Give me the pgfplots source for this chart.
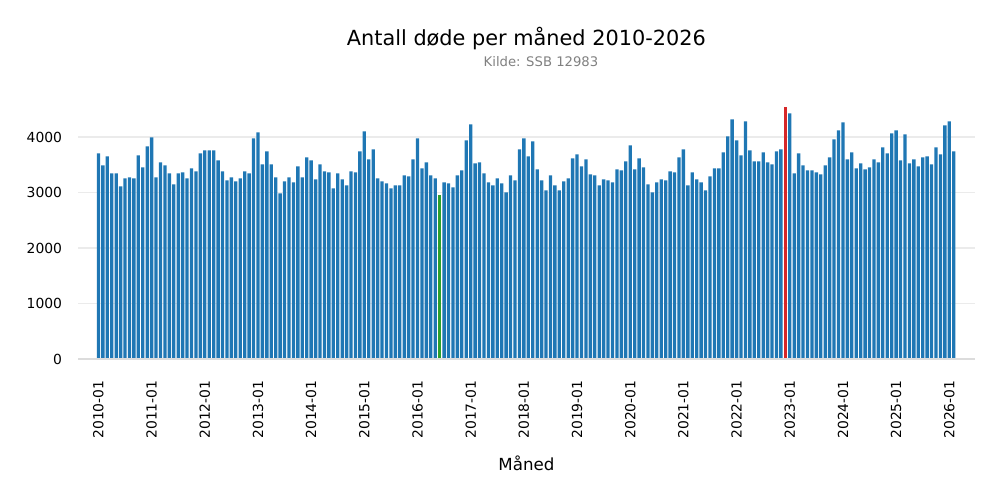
\documentclass[border=0pt]{standalone}
\usepackage{fontspec}
\setmainfont{DejaVu Sans}
\usepackage{pgfplots}
\pgfplotsset{compat=1.18}
\definecolor{tabblue}{HTML}{1F77B4}
\definecolor{tabred}{HTML}{D62728}
\definecolor{tabgreen}{HTML}{2CA02C}
\definecolor{gridgray}{HTML}{EBEBEB}
\definecolor{spinegray}{HTML}{DCDCDC}

% monthly deaths, index 0 = 2010-01
\pgfplotstableread{
i v
0 3706
1 3490
2 3652
3 3345
4 3345
5 3111
6 3255
7 3273
8 3255
9 3670
10 3453
11 3832
12 3994
13 3273
14 3544
15 3490
16 3345
17 3147
18 3345
19 3363
20 3255
21 3435
22 3381
23 3706
24 3760
25 3760
26 3760
27 3580
28 3381
29 3219
30 3273
31 3201
32 3255
33 3381
34 3345
35 3976
36 4084
37 3508
38 3742
39 3508
40 3273
41 2985
42 3201
43 3273
44 3183
45 3471
46 3273
47 3634
48 3580
49 3237
50 3508
51 3381
52 3363
53 3075
54 3345
55 3237
56 3129
57 3381
58 3363
59 3742
60 4102
61 3598
62 3778
63 3255
64 3201
65 3165
66 3075
67 3129
68 3129
69 3309
70 3291
71 3598
72 3976
73 3435
74 3544
75 3309
76 3255
78 3183
79 3165
80 3093
81 3309
82 3399
83 3940
84 4228
85 3526
86 3544
87 3345
88 3183
89 3129
90 3255
91 3165
92 3003
93 3309
94 3219
95 3778
96 3976
97 3652
98 3922
99 3417
100 3219
101 3039
102 3309
103 3129
104 3039
105 3201
106 3255
107 3616
108 3688
109 3471
110 3598
111 3327
112 3309
113 3129
114 3237
115 3219
116 3183
117 3417
118 3399
119 3562
120 3850
121 3417
122 3616
123 3453
124 3147
125 3003
126 3183
127 3237
128 3219
129 3381
130 3363
131 3634
132 3778
133 3129
134 3363
135 3237
136 3183
137 3039
138 3291
139 3435
140 3435
141 3724
142 4012
143 4318
144 3940
145 3670
146 4282
147 3760
148 3562
149 3562
150 3724
151 3544
152 3508
153 3742
154 3778
156 4426
157 3345
158 3706
159 3490
160 3399
161 3399
162 3363
163 3327
164 3490
165 3634
166 3958
167 4120
168 4264
169 3598
170 3724
171 3435
172 3526
173 3417
174 3453
175 3598
176 3544
177 3814
178 3706
179 4066
180 4120
181 3580
182 4048
183 3526
184 3598
185 3471
186 3634
187 3652
188 3508
189 3814
190 3688
191 4210
192 4282
193 3742
}\deaths

\begin{document}
\begin{tikzpicture}[x=1bp,y=1bp]
\begin{axis}[
    at={(56.2bp,101.5bp)}, anchor=south west,
    scale only axis, width=645.8bp, height=190.3bp,
    xmin=-4.6, xmax=197.8, ymin=0, ymax=4762,
    axis line style={draw=none},
    axis x line*=bottom, axis y line*=left,
    ymajorgrids, grid style={gridgray, line width=0.9bp},
    major tick length=0,
    xtick={0,12,...,192},
    xticklabels={2010-01,2011-01,2012-01,2013-01,2014-01,2015-01,2016-01,2017-01,2018-01,2019-01,2020-01,2021-01,2022-01,2023-01,2024-01,2025-01,2026-01},
    xticklabel shift=12bp,
    xticklabel style={rotate=90, anchor=east, font=\fontsize{10bp}{12bp}\selectfont},
    ytick={0,1000,2000,3000,4000},
    yticklabel style={xshift=-8bp, font=\fontsize{10bp}{12bp}\selectfont},
    /pgf/number format/assume math mode=true,
    scaled y ticks=false,
    yticklabel={\pgfmathprintnumber[1000 sep={}]{\tick}},
    clip=false,
]
\addplot[ybar, bar width=0.75, fill=tabblue, draw=none] table[x=i, y=v] {\deaths};
\addplot[ybar, bar width=0.75, fill=tabgreen, draw=none] coordinates {(77,2949)};
\addplot[ybar, bar width=0.75, fill=tabred, draw=none] coordinates {(155,4535)};
\draw[spinegray, line width=1.8bp] (axis cs:-4.6,0) -- (axis cs:197.8,0);
\end{axis}
\node[font=\fontsize{15bp}{18bp}\selectfont] at (379bp,332bp) {Antall døde per måned 2010-2026};
\node[font=\fontsize{9.5bp}{11bp}\selectfont, text=gray] at (389.5bp,315.4bp) {Kilde: SSB 12983};
\node[font=\fontsize{12bp}{14bp}\selectfont] at (379bp,26.6bp) {Måned};
\pgfresetboundingbox
\path[use as bounding box] (0,0) rectangle (720bp,360bp);
\end{tikzpicture}
\end{document}
